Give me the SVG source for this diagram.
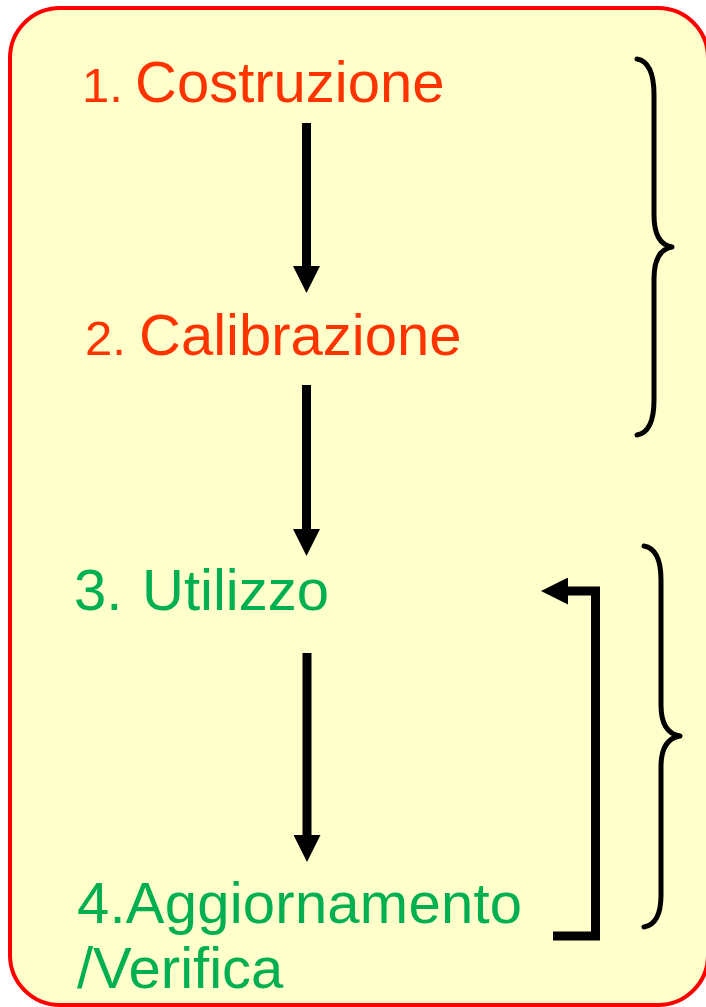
<svg xmlns="http://www.w3.org/2000/svg" width="706" height="1007" viewBox="0 0 706 1007">
  <style>
    .t { font-family: "Liberation Sans", Arial, sans-serif; font-size: 58px; }
    .n { font-size: 49px; }
    .red { fill: #FF3300; }
    .green { fill: #00B050; }
    .conn { stroke: #000; stroke-width: 9; fill: none; }
    .brace { stroke: #000; stroke-width: 5; fill: none; stroke-linecap: round; stroke-linejoin: round; }
  </style>
  <defs>
    <marker id="head" viewBox="0 0 27 27" markerWidth="27" markerHeight="27" refX="0" refY="13.5" orient="auto" markerUnits="userSpaceOnUse">
      <path d="M0,0 L27,13.5 L0,27 z" fill="#000"/>
    </marker>
  </defs>
  <rect id="frame" x="10" y="8" width="698" height="997" rx="50" ry="50" fill="#FFFFCC" stroke="#FF0000" stroke-width="4"/>

  <g id="node1">
    <text class="t red" y="101.5"><tspan class="n" x="82">1.</tspan><tspan x="135">Costruzione</tspan></text>
  </g>
  <g id="node2">
    <text class="t red" y="355"><tspan class="n" x="85">2.</tspan><tspan x="139">Calibrazione</tspan></text>
  </g>
  <g id="node3">
    <text class="t green" y="610"><tspan x="74">3.</tspan><tspan x="142">Utilizzo</tspan></text>
  </g>
  <g id="node4">
    <text class="t green" x="77" y="923" textLength="445">4.Aggiornamento</text>
    <text class="t green" x="77" y="988">/Verifica</text>
  </g>

  <g id="connectors">
    <line class="conn" x1="306.5" y1="123" x2="306.5" y2="266" marker-end="url(#head)"/>
    <line class="conn" x1="306.5" y1="385" x2="306.5" y2="529" marker-end="url(#head)"/>
    <line class="conn" x1="307" y1="653" x2="307" y2="835" marker-end="url(#head)"/>
    <path class="conn" d="M553,936 H595.5 V591 H568" marker-end="url(#head)"/>
  </g>

  <g id="braces">
    <path class="brace" d="M637,59 Q654,62 654,95 L654,215 Q654,244 672,247 Q654,250 654,279 L654,400 Q654,432 637,435"/>
    <path class="brace" d="M644,546 Q661,549 661,580 L661,705 Q661,733 680,736 Q661,739 661,767 L661,895 Q661,924 644,927"/>
  </g>
</svg>
